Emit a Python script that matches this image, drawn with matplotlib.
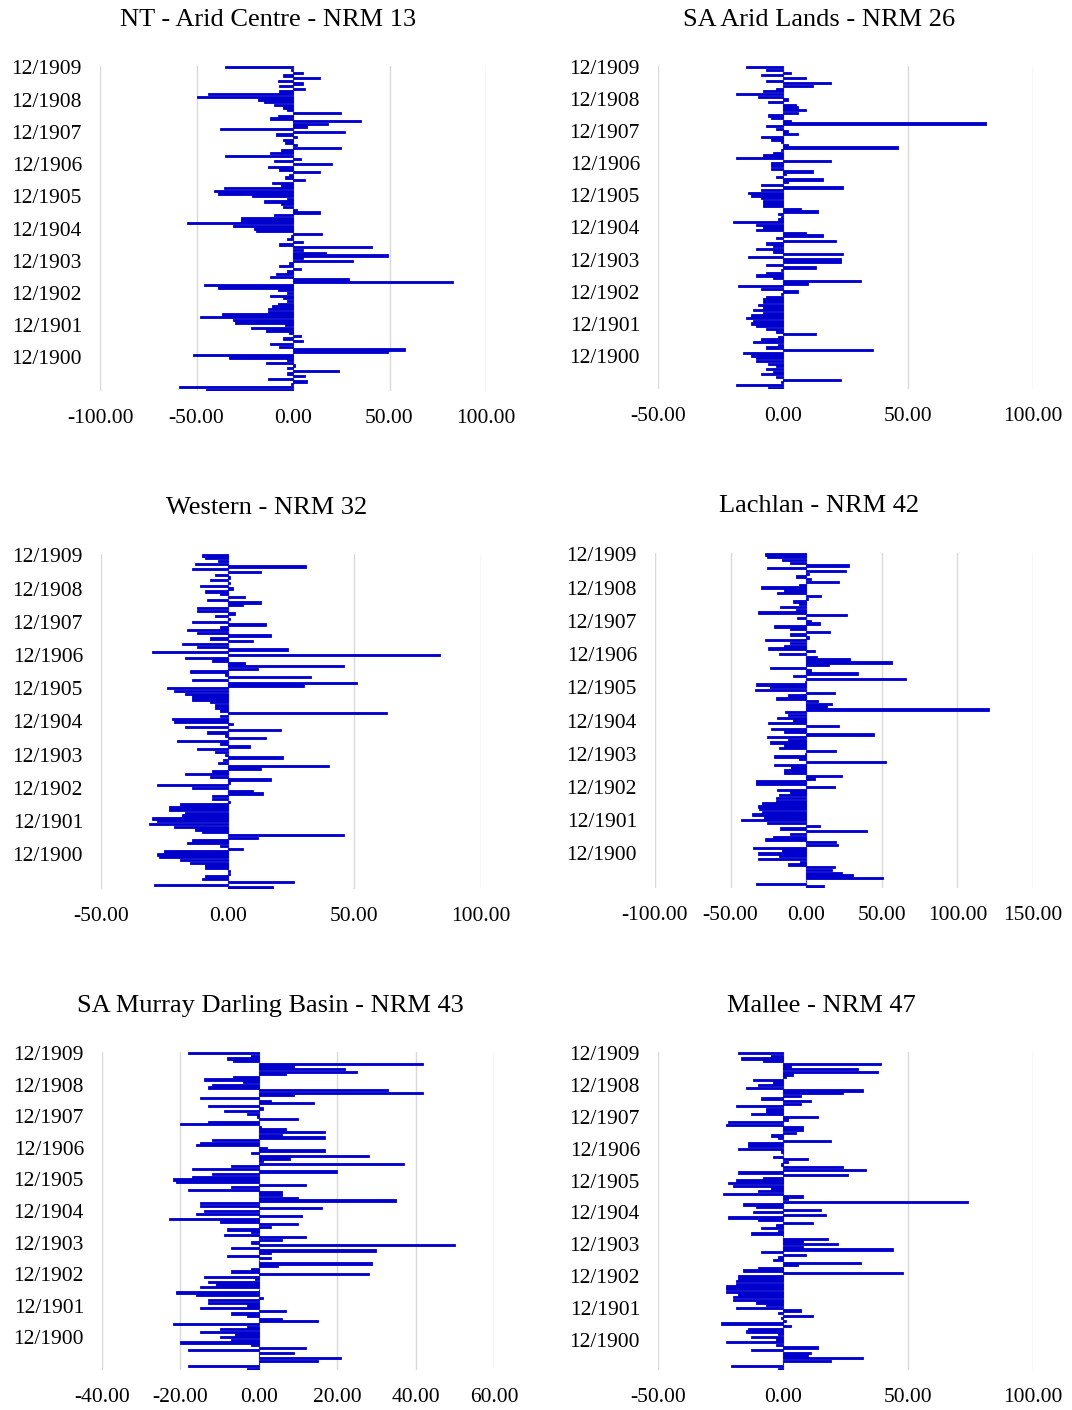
import numpy as np
import matplotlib.pyplot as plt

plt.rcParams["font.family"] = ["Liberation Serif", "DejaVu Serif"]
plt.rcParams["axes.unicode_minus"] = False

# monthly values per region, listed newest month (12/1909) first
nt_arid = [-35, -1, 5, -5, 14, -8, 5, -7, 6, -7, -44, -50, -18, -15, -10, -5, -3, 25, -8, -12,
           35, 18, 7, -38, 27, -9, 2, -5, -4, 2, 25, -6, -12, -35, 4, -10, 20, -13, -7, 14,
           -2, -4, 6, -11, -6, -36, -41, -39, -21, -3, -15, -6, -5, 2, 14, -10, -27, -27, -55, -31,
           -20, -19, 15, -1, -3, 5, -7, 41, 5, 17, 49, 5, 31, -2, -7, 4, -3, -9, -12, 29,
           83, -46, -39, -8, -3, -12, -5, -3, -8, -11, -13, -13, -37, -48, -31, -30, -4, -22, -14, -2,
           4, -5, 5, -12, -7, 58, 49, -52, -33, -3, -14, 1, -3, 24, -3, 6, -13, 7, -1, -59,
           -45]

sa_arid = [-15, -7, 3, -9, 9, -7, 19, 12, -3, -8, -19, -10, 2, -6, 5, 6, 9, 6, -6, -5,
           3, 81, -7, -3, 2, 6, -9, -5, -1, 2, 46, -1, -4, -8, -19, 19, -5, -5, -5, 12,
           1, -3, 16, 2, -9, 24, -9, -14, -13, -9, -8, -8, -8, 7, 14, -2, -1, -2, -20, -11,
           -8, -11, 9, 16, -3, 21, -7, -4, -11, -4, 24, -14, 23, 23, -7, 13, -1, -7, -11, -4,
           31, 10, -18, -9, 6, -1, -7, -8, -8, -10, -8, -12, -8, -13, -15, -12, -13, -11, -7, -3,
           13, -2, -9, -12, -2, -7, 36, -16, -13, -11, -11, -6, -3, -7, -4, -9, -3, 23, -1, -19,
           -6]

western = [-10, -9, -4, -13, 31, -14, 13, -5, 1, -7, 1, -11, 2, -9, -3, 7, -8, 13, 6, -12,
           -12, 3, -5, 1, -14, 15, -3, -16, -12, 17, -7, 10, -18, -12, 24, -30, 84, -17, -6, 7,
           46, 12, -15, -1, 33, -14, 51, 30, -24, -21, -17, -14, -14, -7, -5, -5, -3, 63, -3, -22,
           -21, 2, -17, 21, -8, -1, 15, -20, -3, 9, -12, -5, -1, 22, -2, -4, 40, 13, -6, -17,
           -7, 17, 1, -28, -14, 10, 14, -6, -6, 1, -19, -23, -23, -17, -18, -30, -28, -31, -21, -13,
           -10, 46, 12, -14, -16, -3, 6, -25, -28, -27, -19, -15, -9, -9, 1, 1, -9, -10, 26, -29,
           18]

lachlan = [-27, -26, -16, -11, 28, -26, 26, 2, -7, 3, 22, -5, -30, -15, -19, 10, 1, -9, -5, -17,
           -7, -32, 27, -6, 3, 9, -21, -11, 16, -11, 2, -27, -11, -15, -25, 6, -18, 7, 29, 57,
           15, -24, 3, 34, -9, 66, -1, -33, -24, -34, 19, -12, -20, 8, 17, 14, 121, -14, -12, -19,
           -9, -25, 22, -23, -15, 45, -26, -12, -24, -15, -18, 20, -1, -21, -5, 53, -21, -10, -15, -15,
           24, 6, -33, -33, 19, -19, -11, -18, -20, -20, -29, -32, -31, -29, -36, -28, -43, -26, 9, -17,
           40, -11, -22, -27, 20, 21, -35, -16, -32, -18, -32, -4, -12, 19, 17, 24, 31, 51, 0, -33,
           12]

sa_mdb = [-18, -2, -8, -6.5, 42, 9, 22, 25, 7, -6.5, -14, -4, -12, -13, 33, 42, 9, -15, 3, 14,
          -13, 1, -9, -3, -0.5, 10, -13, -20, 0.5, 7, 17, 6, 17, -12, -15, -16, 2, 17, -2, 28,
          8, 1, 37, -7, -17, 20, -12, -17, -22, -21, 12, -7, -18, 6, 6, 10, 35, -15, -15, 16,
          -14, -16, 11, -23, -10, 10, 3, -8, -2, -9, 12, 6, -2, 50, -7, 30, 3, -8, 3, 0,
          29, 5, -2, -7, 28, -14, -1, -13, -11, -15, 0, -21, -16, 1, -13, -13, -3, -15, 7, -7,
          -3, 6, 15, -22, -3, -10, -15, -6, -10, -7, -20, -2, 12, -18, 9, 0, 21, 15, 0, -18,
          -3]

mallee = [-18, -5, -17, -8, 39, 3, 30, 38, 4, 1, -12, -4, -10, -15, 32, 24, 7, -9, 11, 7,
          -19, -7, -7, -13, 14, 2, -22, -23, 8, 8, 5, -5, -2, 19, -14, -14, -18, -1, 0, -4,
          10, 2, -1, 24, 33, -18, 26, -8, -19, -22, -20, -5, -10, -24, 8, 2, 74, -16, -11, 15,
          -12, 17, -22, -10, 12, -3, -9, -2, -13, 0, 18, 8, 22, 8, 44, -9, 9, -2, -4, 31,
          6, -10, -16, 48, -18, -18, -19, -19, -23, -23, -23, -18, -20, -20, -11, -7, -19, 7, -2, 12,
          -1, 1, -25, 3, -14, -15, -2, -13, -3, -23, -3, 14, -13, 11, 10, 32, 19, 0, -21, -2]

titles = ["NT - Arid Centre - NRM 13", "SA Arid Lands - NRM 26", "Western - NRM 32",
          "Lachlan - NRM 42", "SA Murray Darling Basin - NRM 43", "Mallee - NRM 47"]
xticks = [[-100, -50, 0, 50, 100], [-50, 0, 50, 100], [-50, 0, 50, 100],
          [-100, -50, 0, 50, 100, 150], [-40, -20, 0, 20, 40, 60], [-50, 0, 50, 100]]
years = list(range(1909, 1899, -1))

W, H = 1072, 1410
fig = plt.figure(figsize=(W / 100, H / 100), dpi=100)

# plot boxes in pixels: left, top, right, bottom ; title centre x, y
boxes = [(100, 66, 486, 391), (658, 66, 1033, 389), (101, 554, 481, 889),
         (655, 553, 1033, 888), (102, 1052, 494, 1370), (658, 1052, 1033, 1370)]
title_pos = [(268, 20), (819, 20), (267, 508), (819, 506), (270, 1006), (821, 1006)]

data = [nt_arid, sa_arid, western, lachlan, sa_mdb, mallee]

for vals, ticks, title, box, tpos in zip(data, xticks, titles, boxes, title_pos):
    left, top, right, bottom = box
    ax = fig.add_axes([left / W, 1 - bottom / H, (right - left) / W, (bottom - top) / H])
    v = np.array(vals[::-1], dtype=float)
    n = len(v)
    y = np.arange(n)
    ax.barh(y, v, height=0.85, color="#0000CC", edgecolor="#0000CC", linewidth=0.6, zorder=2)
    ax.axvline(0, color="#BFBFBF", lw=1, zorder=1)
    ax.set_xlim(ticks[0], ticks[-1])
    ax.set_ylim(-0.5, n - 0.5)
    ax.set_xticks(ticks)
    ax.set_xticklabels([f"{t:.2f}" for t in ticks])
    ypos = [n - 1 - 12 * k for k in range(len(years))]
    ax.set_yticks(ypos)
    ax.set_yticklabels([f"12/{yr}" for yr in years])
    ax.xaxis.grid(True, color="#D9D9D9", lw=1)
    ax.set_axisbelow(True)
    for s in ax.spines.values():
        s.set_visible(False)
    ax.tick_params(axis="x", length=0, pad=13, labelsize=15.5, colors="#000000")
    ax.tick_params(axis="y", length=0, pad=13, labelsize=15.5, colors="#000000")
    fig.text(tpos[0] / W, 1 - tpos[1] / H, title, ha="center", va="center", fontsize=19)

fig.savefig("out.png", dpi=100)
